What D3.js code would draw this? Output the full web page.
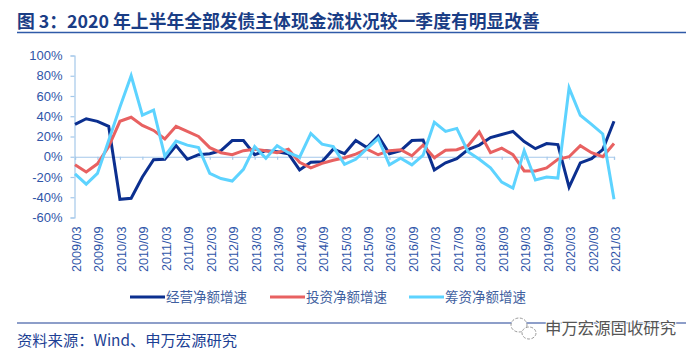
<!DOCTYPE html>
<html><head><meta charset="utf-8">
<script src="https://cdn.jsdelivr.net/npm/d3@7"></script>
<style>html,body{margin:0;padding:0;background:#fff}svg{display:block}</style>
</head><body><svg id="c" width="699" height="359"></svg>
<script>
const titleText = "图 3\uFF1A2020 年上半年全部发债主体现金流状况较一季度有明显改善";
const sourceText = "资料来源\uFF1AWind、申万宏源研究";
const watermarkText = "申万宏源固收研究";
const seriesNames = ["经营净额增速","投资净额增速","筹资净额增速"];
const seriesColors = ["#0b2f8f","#e86161","#5dd3ff"];
const yTicks = [-60,-40,-20,0,20,40,60,80,100];
const quarters = [];
for (let y=2009;y<=2021;y++) for (const m of ["03","06","09","12"]) { if (y<2021||m==="03") quarters.push(y+"/"+m); }
const operating = [32,37.5,35,30,-42,-41,-20,-3,-2.5,11,-2.5,2,3,6,16,16,2,6,5,3,-13,-5.5,-5,7.5,3,16,9,20.5,3,6,16,16.5,-13,-6,-2,7,11.5,19,22,25,15,8,13,12,-30,-6,-2,7,35];
const investing = [-8,-15,-7,10,35,39,31,26,17.5,30,25,20,9,4,2,6,7.5,6,4,7.5,-5.5,-11,-6.5,-3.5,-1,2.5,7.5,2,6,7,1,11.5,-1,6.5,7,11,24.5,4,8.5,2,-14,-14,-11,-2.5,0,11,4,0,13];
const financing = [-17,-27,-16.5,16,49,80,41,46,0.5,15.5,11.5,9,-16.5,-21.5,-24,-12.5,10,-1.5,11,4,-0.5,23,12.5,10,-7.5,-2.5,8,18,-8,-1.5,-8,1.5,34,25,28,5,-2.5,-11,-25,-31,6,-23,-20,-21,68,41,32,22.5,-42];
const seriesValues = [operating,investing,financing];

const svg = d3.select("#c");
const cjk = "'Noto Sans CJK SC','Liberation Sans',sans-serif";
const latin = "'Liberation Sans',Arial,sans-serif";
const navy = "#1c3f94", tickBlue = "#2f55a8", axisBlue = "#a5c8ea";

svg.append("text").attr("x",17).attr("y",28).attr("fill","#1a3d85")
  .attr("font-family",cjk).attr("font-weight",700).attr("font-size",17.8).text(titleText);
svg.append("line").attr("x1",17).attr("x2",686).attr("y1",32.5).attr("y2",32.5).attr("stroke","#2f5aa8").attr("stroke-width",1.4);

const x = d3.scalePoint().domain(quarters).range([75,614]);
const y = d3.scaleLinear().domain([-60,100]).range([217.5,55.5]);

const yAxis = svg.append("g").attr("transform","translate(74.5,0)")
  .call(d3.axisLeft(y).tickValues(yTicks).tickFormat(d=>d+"%").tickSize(4).tickPadding(8));
yAxis.selectAll("path,line").attr("stroke",axisBlue).attr("stroke-width",1.2);
yAxis.selectAll("text").attr("fill",tickBlue).attr("font-family",latin).attr("font-size",13);

const halfYears = quarters.filter((d,i)=>i%2===0);
const zeroAxis = svg.append("g").attr("transform",`translate(0,${y(0)})`)
  .call(d3.axisBottom(x).tickValues(halfYears).tickSize(3).tickFormat(""));
zeroAxis.selectAll("path,line").attr("stroke",axisBlue).attr("stroke-width",1.2);

const labelAxis = svg.append("g").attr("transform","translate(1.5,226.5)")
  .call(d3.axisBottom(x).tickValues(halfYears).tickSize(0).tickPadding(0));
labelAxis.select(".domain").remove();
labelAxis.selectAll("text").attr("fill",tickBlue).attr("font-family",latin).attr("font-size",12.6)
  .attr("text-anchor","end").attr("dy",null).attr("y",0).attr("x",0)
  .attr("dominant-baseline","central").attr("transform","rotate(-90)");

const line = d3.line().x((d,i)=>x(quarters[i])).y(d=>y(d));
svg.append("g").selectAll("path").data(seriesValues).join("path")
  .attr("d",line).attr("fill","none").attr("stroke",(d,i)=>seriesColors[i])
  .attr("stroke-width",3).attr("stroke-linejoin","miter");

const legendX = [130,270,409];
const legend = svg.append("g").selectAll("g").data(seriesNames).join("g")
  .attr("transform",(d,i)=>`translate(${legendX[i]},297)`);
legend.append("line").attr("x1",0).attr("x2",35).attr("stroke",(d,i)=>seriesColors[i]).attr("stroke-width",3);
legend.append("text").attr("x",36).attr("y",5).attr("fill","#3f5f9f").attr("font-family",cjk).attr("font-size",13.5).text(d=>d);

svg.append("line").attr("x1",17).attr("x2",686).attr("y1",323).attr("y2",323).attr("stroke","#1c3f94").attr("stroke-width",1.2);
svg.append("text").attr("x",17).attr("y",346).attr("fill",navy).attr("font-family",cjk).attr("font-size",15.3).text(sourceText);

const wm = svg.append("g").attr("fill","none").attr("stroke","#9a9a9a").attr("stroke-width",1);
wm.append("ellipse").attr("cx",519).attr("cy",325).attr("rx",8).attr("ry",7).attr("fill","#fff").attr("stroke-dasharray","3 1.5");
wm.append("ellipse").attr("cx",529).attr("cy",333).attr("rx",7).attr("ry",6).attr("fill","#fff").attr("stroke-dasharray","3 1.5");
svg.append("text").attr("x",545).attr("y",334).attr("fill","#555").attr("font-family",cjk).attr("font-size",16.4).attr("stroke","#fff").attr("stroke-width",2).attr("paint-order","stroke").text(watermarkText);
</script></body></html>
